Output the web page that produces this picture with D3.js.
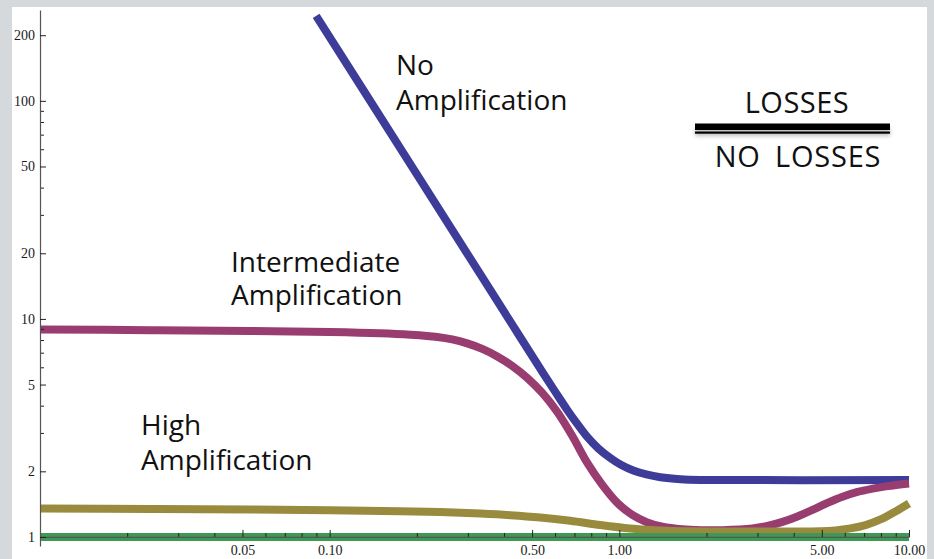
<!DOCTYPE html>
<html>
<head>
<meta charset="utf-8">
<script src="https://cdn.jsdelivr.net/npm/d3@7"></script>
<style>
  html, body { margin: 0; padding: 0; background: #d5d9dc; }
  svg { display: block; }
</style>
</head>
<body>
<svg id="chart" width="934" height="559"></svg>
<script>
// ---- data ----
const xTicksMajor = [0.05, 0.1, 0.5, 1, 5, 10];
const xTickLabels = ["0.05", "0.10", "0.50", "1.00", "5.00", "10.00"];
const xTicksMinor = [0.02, 0.03, 0.04, 0.06, 0.07, 0.08, 0.09, 0.2, 0.3, 0.4, 0.6, 0.7, 0.8, 0.9, 2, 3, 4, 6, 7, 8, 9];
const yTicksMajor = [1, 2, 5, 10, 20, 50, 100, 200];
const yTickLabels = ["1", "2", "5", "10", "20", "50", "100", "200"];
const yTicksMinor = [3, 4, 6, 7, 8, 9, 30, 40, 60, 70, 80, 90];

const noAmpX = [0.0898, 0.1752, 0.3311, 0.455, 0.5463, 0.601, 0.6612, 0.7159, 0.775, 0.8462, 0.9309, 1.016, 1.1178, 1.2395, 1.386, 1.624, 1.905, 10];
const noAmpY = [245.4, 60.7, 16.03, 8.24, 5.62, 4.63, 3.825, 3.299, 2.875, 2.547, 2.304, 2.139, 2.018, 1.935, 1.879, 1.840, 1.826, 1.826];

const interAmpX = [0.01, 0.024, 0.0531, 0.1004, 0.1494, 0.1897, 0.2351, 0.2649, 0.2985, 0.3363, 0.379, 0.427, 0.4811, 0.542, 0.6107, 0.6881, 0.7753, 0.8735, 0.9842, 1.109, 1.249, 1.408, 1.651, 1.935, 2.269, 2.88, 3.245, 3.656, 4.12, 4.642, 5.23, 5.893, 6.64, 7.481, 8.426, 10];
const interAmpY = [8.948, 8.882, 8.81, 8.716, 8.598, 8.463, 8.268, 8.054, 7.72, 7.284, 6.73, 6.086, 5.362, 4.577, 3.744, 2.906, 2.185, 1.732, 1.432, 1.262, 1.166, 1.114, 1.084, 1.0745, 1.0745, 1.094, 1.123, 1.172, 1.242, 1.33, 1.432, 1.529, 1.609, 1.665, 1.71, 1.76];

const highAmpX = [0.01, 0.024, 0.0531, 0.1004, 0.1752, 0.2408, 0.3311, 0.4202, 0.5334, 0.6772, 0.8598, 1.0914, 1.386, 1.759, 2.234, 4.22, 4.947, 5.573, 6.281, 7.074, 7.973, 8.982, 10];
const highAmpY = [1.349, 1.344, 1.337, 1.326, 1.312, 1.300, 1.280, 1.259, 1.229, 1.187, 1.135, 1.094, 1.070, 1.061, 1.060, 1.060, 1.062, 1.072, 1.095, 1.133, 1.203, 1.309, 1.424];

const refX = [0.01, 10];
const refY = [1, 1];

const seriesNames = ["No Amplification", "Intermediate Amplification", "High Amplification", "Reference"];
const seriesColors = ["#3d3d99", "#993d71", "#998b3d", "#3d9954"];

// ---- drawing ----
const svg = d3.select("#chart");
svg.append("rect").attr("x", 0).attr("y", 0).attr("width", 934).attr("height", 559).attr("fill", "#d5d9dc");
svg.append("rect").attr("x", 12).attr("y", 7).attr("width", 915).attr("height", 560).attr("fill", "#ffffff");

const x = d3.scaleLog().domain([0.01, 10]).range([40, 909]);
const y = d3.scaleLog().domain([0.909, 261]).range([546, 10]);

const zip = (xs, ys) => xs.map((v, i) => [v, ys[i]]);
const series = [zip(noAmpX, noAmpY), zip(interAmpX, interAmpY), zip(highAmpX, highAmpY), zip(refX, refY)];

const line = d3.line().x(d => x(d[0])).y(d => y(d[1])).curve(d3.curveCatmullRom.alpha(0.5));

series.forEach((s, i) => {
  svg.append("path")
    .datum(s)
    .attr("d", line)
    .attr("fill", "none")
    .attr("stroke", seriesColors[i])
    .attr("stroke-width", 8)
    .attr("stroke-linecap", "butt")
    .attr("stroke-linejoin", "round");
});

// axes
const axisColor = "#555";
const tickFont = "'Liberation Serif', 'Times New Roman', serif";

const xMinor = svg.append("g").attr("transform", `translate(0,${y(1)})`)
  .call(d3.axisBottom(x).tickValues(xTicksMinor).tickFormat("").tickSizeInner(-4).tickSizeOuter(0));
xMinor.select(".domain").remove();

const xMajor = svg.append("g").attr("transform", `translate(0,${y(1)})`)
  .call(d3.axisBottom(x).tickValues(xTicksMajor).tickFormat((d, i) => xTickLabels[i]).tickSizeInner(-7).tickSizeOuter(0).tickPadding(8));

const yMinor = svg.append("g").attr("transform", `translate(${x(0.01)},0)`)
  .call(d3.axisLeft(y).tickValues(yTicksMinor).tickFormat("").tickSizeInner(-4).tickSizeOuter(0));
yMinor.select(".domain").remove();

const yMajor = svg.append("g").attr("transform", `translate(${x(0.01)},0)`)
  .call(d3.axisLeft(y).tickValues(yTicksMajor).tickFormat((d, i) => yTickLabels[i]).tickSizeInner(-6).tickSizeOuter(0).tickPadding(5));

[xMinor, xMajor, yMinor, yMajor].forEach(g => {
  g.attr("font-size", 14).attr("font-family", tickFont);
  g.selectAll("line").attr("stroke", "#222").attr("stroke-width", 1);
  g.selectAll(".domain").attr("stroke", axisColor).attr("stroke-width", 1.2);
  g.selectAll("text").attr("fill", "#1a1a1a").style("font-family", tickFont).style("font-size", "14px");
});

// annotations
const labelFont = "'Open Sans', 'Noto Sans', sans-serif";
function label(lines, x0, baselines) {
  lines.forEach((s, i) => svg.append("text").attr("font-family", labelFont).attr("font-size", 28).attr("fill", "#111")
    .attr("x", x0).attr("y", baselines[i]).text(s));
}
label(["No", "Amplification"], 396, [75, 110]);
label(["Intermediate", "Amplification"], 231, [272, 305]);
label(["High", "Amplification"], 141, [435, 470]);

svg.append("text").attr("x", 797).attr("y", 113).attr("text-anchor", "middle")
  .attr("font-family", labelFont).attr("font-size", 29).attr("letter-spacing", 0.5).attr("fill", "#111").text("LOSSES");
svg.append("text").attr("x", 798).attr("y", 167).attr("text-anchor", "middle")
  .attr("font-family", labelFont).attr("font-size", 29).attr("letter-spacing", 0.8).attr("word-spacing", 6).attr("fill", "#111").text("NO LOSSES");

const defs = svg.append("defs");
const f = defs.append("filter").attr("id", "sh").attr("x", "-10%").attr("y", "-100%").attr("width", "120%").attr("height", "400%");
f.append("feGaussianBlur").attr("stdDeviation", 2);
svg.append("rect").attr("x", 695).attr("y", 128).attr("width", 195).attr("height", 8).attr("fill", "#000").attr("opacity", 0.25).attr("filter", "url(#sh)");
svg.append("rect").attr("x", 695).attr("y", 123.5).attr("width", 195).attr("height", 6.5).attr("fill", "#000");
svg.append("rect").attr("x", 695).attr("y", 131.5).attr("width", 195).attr("height", 2.2).attr("fill", "#000");
</script>
</body>
</html>
